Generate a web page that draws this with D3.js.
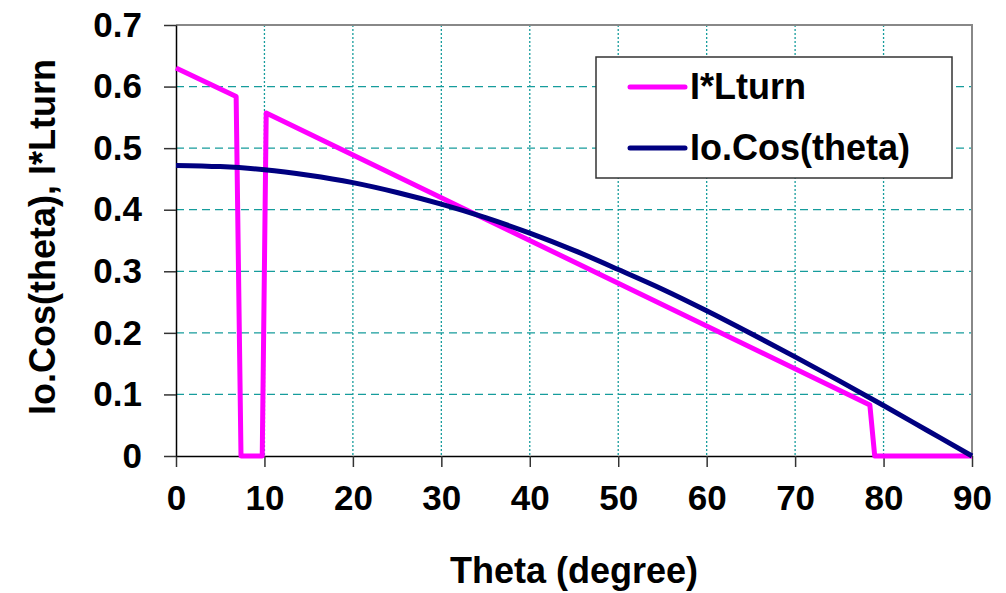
<!DOCTYPE html>
<html>
<head>
<meta charset="utf-8">
<script src="https://cdn.jsdelivr.net/npm/d3@7"></script>
<style>
  body { margin: 0; background: #fff; }
  text { font-family: "Liberation Sans", Arial, sans-serif; font-weight: bold; fill: #000; }
</style>
</head>
<body>
<div id="chart"></div>
<script>
// I*Lturn series (theta in degrees, value)
var lturnTheta = [0, 6.8, 7.35, 9.75, 10.2, 78.45, 79.0, 90];
var lturnValue = [0.630, 0.584, 0, 0, 0.557, 0.083, 0, 0];

// Io.Cos(theta) series
var cosTheta = [0, 5, 10, 15, 20, 25, 30, 35, 40, 45, 50, 55, 60, 65, 70, 75, 80, 85, 90];
var cosValue = [0.472, 0.470, 0.465, 0.456, 0.444, 0.428, 0.409, 0.387, 0.362, 0.334,
                0.303, 0.271, 0.236, 0.199, 0.161, 0.122, 0.082, 0.041, 0];

var xTicks = [0, 10, 20, 30, 40, 50, 60, 70, 80, 90];
var yTicks = [0, 0.1, 0.2, 0.3, 0.4, 0.5, 0.6, 0.7];

var seriesNames = ["I*Lturn", "Io.Cos(theta)"];
var seriesColors = ["#ff00ff", "#000080"];

var width = 1006, height = 593;
var margin = {top: 25, right: 34, bottom: 137, left: 176};
var w = width - margin.left - margin.right;
var h = height - margin.top - margin.bottom;

var svg = d3.select("#chart").append("svg")
    .attr("width", width)
    .attr("height", height);

var g = svg.append("g")
    .attr("transform", "translate(" + margin.left + "," + margin.top + ")");

var x = d3.scaleLinear().domain([0, 90]).range([0, w]);
var y = d3.scaleLinear().domain([0, 0.7]).range([h, 0]);

// grid lines
g.selectAll(".hgrid")
    .data(yTicks.filter(function(d) { return d > 0 && d < 0.7; }))
    .enter().append("line")
    .attr("class", "hgrid")
    .attr("x1", 0).attr("x2", w)
    .attr("y1", function(d) { return y(d); })
    .attr("y2", function(d) { return y(d); })
    .attr("stroke", "#169c9c")
    .attr("stroke-width", 1.3)
    .attr("stroke-dasharray", "8,5");

g.selectAll(".vgrid")
    .data(xTicks.filter(function(d) { return d > 0 && d < 90; }))
    .enter().append("line")
    .attr("class", "vgrid")
    .attr("y1", 0).attr("y2", h)
    .attr("x1", function(d) { return x(d); })
    .attr("x2", function(d) { return x(d); })
    .attr("stroke", "#169c9c")
    .attr("stroke-width", 1.3)
    .attr("stroke-dasharray", "2,2");

// gray border on top and right
g.append("path")
    .attr("d", "M0,0H" + w + "V" + h)
    .attr("fill", "none")
    .attr("stroke", "#888")
    .attr("stroke-width", 2);

// axes
var xAxis = g.append("g")
    .attr("transform", "translate(0," + h + ")")
    .call(d3.axisBottom(x).tickValues(xTicks).tickSize(11).tickPadding(18).tickSizeOuter(0));
var yAxis = g.append("g")
    .call(d3.axisLeft(y).tickValues(yTicks).tickSize(12).tickPadding(22).tickSizeOuter(0)
        .tickFormat(function(d) { return d === 0 ? "0" : d3.format(".1f")(d); }));

[xAxis, yAxis].forEach(function(a) {
    a.select(".domain").attr("stroke", "#000").attr("stroke-width", 1.5);
    a.selectAll(".tick line").attr("stroke", "#333").attr("stroke-width", 1.5);
    a.selectAll("text").style("font-size", "35px").style("font-family", "'Liberation Sans', Arial, sans-serif")
        .style("font-weight", "bold").attr("fill", "#000");
});

// lines
var line = d3.line()
    .x(function(d) { return x(d[0]); })
    .y(function(d) { return y(d[1]); });

g.append("path")
    .datum(lturnTheta.map(function(t, i) { return [t, lturnValue[i]]; }))
    .attr("d", line)
    .attr("fill", "none")
    .attr("stroke", seriesColors[0])
    .attr("stroke-width", 5)
    .attr("stroke-linejoin", "round");

g.append("path")
    .datum(cosTheta.map(function(t, i) { return [t, cosValue[i]]; }))
    .attr("d", line.curve(d3.curveMonotoneX))
    .attr("fill", "none")
    .attr("stroke", seriesColors[1])
    .attr("stroke-width", 5)
    .attr("stroke-linejoin", "round");

// axis titles
svg.append("text")
    .attr("x", margin.left + w / 2)
    .attr("y", 583)
    .attr("text-anchor", "middle")
    .style("font-size", "36px")
    .text("Theta (degree)");

svg.append("text")
    .attr("transform", "translate(55," + 237 + ") rotate(-90)")
    .attr("text-anchor", "middle")
    .style("font-size", "36px")
    .text("Io.Cos(theta), I*Lturn");

// legend
var legend = svg.append("g");
legend.append("rect")
    .attr("x", 596).attr("y", 57)
    .attr("width", 356).attr("height", 121)
    .attr("fill", "#fff")
    .attr("stroke", "#333")
    .attr("stroke-width", 1.5);

var items = legend.selectAll(".item")
    .data(seriesNames)
    .enter().append("g")
    .attr("transform", function(d, i) { return "translate(630," + (87 + i * 61) + ")"; });

items.append("line")
    .attr("x1", 0).attr("x2", 55)
    .attr("stroke", function(d, i) { return seriesColors[i]; })
    .attr("stroke-width", 5)
    .attr("stroke-linecap", "round");

items.append("text")
    .attr("x", 60)
    .attr("y", 12)
    .style("font-size", "36px")
    .text(function(d) { return d; });
</script>
</body>
</html>
